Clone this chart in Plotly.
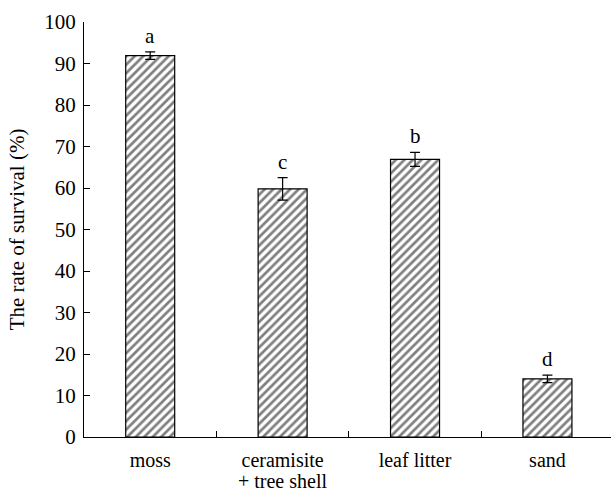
import plotly.graph_objects as go

categories = ["moss", "ceramisite\n+ tree shell", "leaf litter", "sand"]
survival = [91.9, 59.8, 66.9, 14.0]
errors = [0.9, 2.7, 1.7, 0.9]
letters = ["a", "c", "b", "d"]
y_ticks = [0, 10, 20, 30, 40, 50, 60, 70, 80, 90, 100]

FONT = "Liberation Serif"
FS = 21
XFS = 20

first_lines = [c.split("\n")[0] for c in categories]
second_lines = [c.split("\n")[1] if "\n" in c else "" for c in categories]

fig = go.Figure()
fig.add_trace(go.Bar(
    x=first_lines,
    y=survival,
    width=0.37,
    marker=dict(
        color="white",
        line=dict(color="black", width=1.2),
        pattern=dict(shape="/", fgcolor="black", bgcolor="white", size=6, solidity=0.45),
    ),
    error_y=dict(type="data", array=errors, visible=True, color="black", thickness=1.2, width=5),
))

for c, v, e, t in zip(first_lines, survival, errors, letters):
    fig.add_annotation(x=c, y=v + e, text=t, showarrow=False, yanchor="bottom", yshift=2,
                       font=dict(family=FONT, size=FS, color="black"))

for c, s in zip(first_lines, second_lines):
    if s:
        fig.add_annotation(x=c, y=0, yref="paper", text=s, showarrow=False,
                           yanchor="bottom", yshift=-56, borderpad=0,
                           font=dict(family=FONT, size=XFS, color="black"))

fig.update_layout(
    width=611, height=493,
    margin=dict(l=84, r=0, t=22, b=56),
    plot_bgcolor="white", paper_bgcolor="white",
    showlegend=False,
    font=dict(family=FONT, size=FS, color="black"),
)
fig.update_xaxes(
    range=[-0.5, 3.48], showline=True, linecolor="black", linewidth=1.2,
    ticks="inside", ticklen=6, tickcolor="black", tickson="boundaries",
    showgrid=False, ticklabelstandoff=5, automargin=False,
    tickfont=dict(family=FONT, size=XFS, color="black"),
)
fig.update_yaxes(
    range=[0, 100], tickvals=y_ticks, showline=True, linecolor="black", linewidth=1.2,
    ticks="inside", ticklen=6, tickcolor="black", showgrid=False, zeroline=False,
    automargin=False, ticklabelstandoff=3,
    tickfont=dict(family=FONT, size=FS, color="black"),
    title=dict(text="The rate of survival (%)", font=dict(family=FONT, size=FS, color="black"), standoff=13),
)

fig.write_html("out.html")
